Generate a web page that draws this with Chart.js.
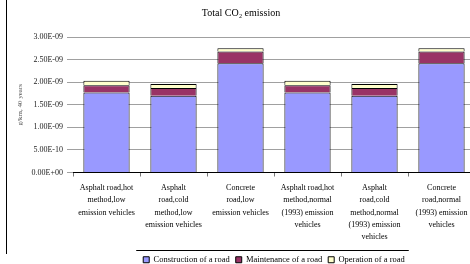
<!DOCTYPE html>
<html lang="en">
<head>
    <meta charset="UTF-8">
    <title>Total CO2 emission</title>
    <style>
        html, body {
            margin: 0;
            padding: 0;
            overflow: hidden;
            background: #fff;
        }
        #marco {
            position: absolute;
            left: 6px;
            top: 0;
            width: 1px;
            height: 254px;
            background: #000;
        }
        #caja {
            position: absolute;
            left: 7px;
            top: 0;
            width: 473px;
            height: 276px;
        }
    </style>
</head>
<body>
    <div id="marco"></div>
    <div id="caja"><canvas id="grafica"></canvas></div>

    <script src="https://cdn.jsdelivr.net/npm/chart.js"></script>
    <script>
        // categorias del eje x (una linea por elemento)
        let categorias = [
            ["Asphalt road,hot", "method,low", "emission vehicles"],
            ["Asphalt", "road,cold", "method,low", "emission vehicles"],
            ["Concrete", "road,low", "emission vehicles"],
            ["Asphalt road,hot", "method,normal", "(1993) emission", "vehicles"],
            ["Asphalt", "road,cold", "method,normal", "(1993) emission", "vehicles"],
            ["Concrete", "road,normal", "(1993) emission", "vehicles"]
        ];

        // valores (g/km, 40 years)
        let construccion = [1.77e-9, 1.70e-9, 2.42e-9, 1.77e-9, 1.70e-9, 2.42e-9];
        let mantenimiento = [0.16e-9, 0.17e-9, 0.26e-9, 0.16e-9, 0.17e-9, 0.26e-9];
        let operacion = [0.10e-9, 0.09e-9, 0.07e-9, 0.10e-9, 0.09e-9, 0.07e-9];

        let valoresY = [0, 0.5e-9, 1.0e-9, 1.5e-9, 2.0e-9, 2.5e-9, 3.0e-9];
        let etiquetasY = ["0.00E+00", "5.00E-10", "1.00E-09", "1.50E-09", "2.00E-09", "2.50E-09", "3.00E-09"];

        let serif = "'Liberation Serif', 'Times New Roman', serif";

        // linea encima de la leyenda, como en el original
        let lineaLeyenda = {
            id: 'lineaLeyenda',
            afterDraw(chart) {
                let cajas = chart.legend.legendHitBoxes;
                if (!cajas || !cajas.length) return;
                let izq = Math.min(...cajas.map(c => c.left)) - 7;
                let der = Math.max(...cajas.map(c => c.left + c.width)) + 4;
                let y = Math.round(chart.legend.top) + 0.5;
                let ctx = chart.ctx;
                ctx.save();
                ctx.strokeStyle = '#000';
                ctx.lineWidth = 1;
                ctx.beginPath();
                ctx.moveTo(izq, y);
                ctx.lineTo(der, y);
                ctx.stroke();
                ctx.restore();
            }
        };

        let ctx = document.getElementById('grafica').getContext('2d');
        new Chart(ctx, {
            type: 'bar',
            data: {
                labels: categorias,
                datasets: [{
                    label: "Construction of a road",
                    data: construccion,
                    backgroundColor: '#9999ff',
                    borderColor: '#000',
                    borderWidth: 1
                }, {
                    label: "Maintenance of a road",
                    data: mantenimiento,
                    backgroundColor: '#993366',
                    borderColor: '#000',
                    borderWidth: 1
                }, {
                    label: "Operation of a road",
                    data: operacion,
                    backgroundColor: '#ffffcc',
                    borderColor: '#000',
                    borderWidth: 1
                }]
            },
            options: {
                responsive: true,
                maintainAspectRatio: false,
                animation: false,
                events: [],
                layout: {
                    padding: { left: 0, right: 5, top: 0, bottom: 2 }
                },
                datasets: {
                    bar: {
                        barPercentage: 0.69,
                        categoryPercentage: 1.0
                    }
                },
                plugins: {
                    title: {
                        display: true,
                        text: "Total CO\u2082 emission",
                        color: '#000',
                        font: { family: serif, size: 10, weight: 'normal' },
                        padding: { top: 7, bottom: 18 }
                    },
                    legend: {
                        position: 'bottom',
                        fullSize: false,
                        labels: {
                            color: '#000',
                            font: { family: serif, size: 8.5 },
                            boxWidth: 6,
                            boxHeight: 6,
                            padding: 6,
                            generateLabels(chart) {
                                return chart.data.datasets.map((d, i) => ({
                                    text: d.label,
                                    fillStyle: d.backgroundColor,
                                    strokeStyle: '#000',
                                    lineWidth: 1,
                                    datasetIndex: i
                                }));
                            }
                        }
                    },
                    tooltip: { enabled: false }
                },
                scales: {
                    x: {
                        stacked: true,
                        grid: {
                            display: true,
                            drawOnChartArea: false,
                            offset: true,
                            color: '#777',
                            tickLength: 4
                        },
                        border: { display: true, color: '#000' },
                        ticks: {
                            color: '#000',
                            maxRotation: 0,
                            autoSkip: false,
                            padding: 5,
                            font: { family: serif, size: 8, lineHeight: 1.55 }
                        },
                        afterFit(scale) {
                            scale.height = 77;
                        }
                    },
                    y: {
                        stacked: true,
                        min: 0,
                        max: 3.0e-9,
                        afterBuildTicks(scale) {
                            scale.ticks = valoresY.map(v => ({ value: v }));
                        },
                        grid: {
                            color: '#a0a0a0',
                            tickLength: 6
                        },
                        border: { display: false },
                        ticks: {
                            color: '#222',
                            padding: 4,
                            font: { family: serif, size: 8 },
                            callback(valor, indice) {
                                return etiquetasY[indice];
                            }
                        },
                        title: {
                            display: true,
                            text: "g/km, 40 years",
                            color: '#555',
                            font: { family: serif, size: 7 },
                            padding: { top: 9, bottom: 4 }
                        },
                        afterFit(scale) {
                            scale.width = 66;
                        }
                    }
                }
            },
            plugins: [lineaLeyenda]
        });
    </script>
</body>
</html>
